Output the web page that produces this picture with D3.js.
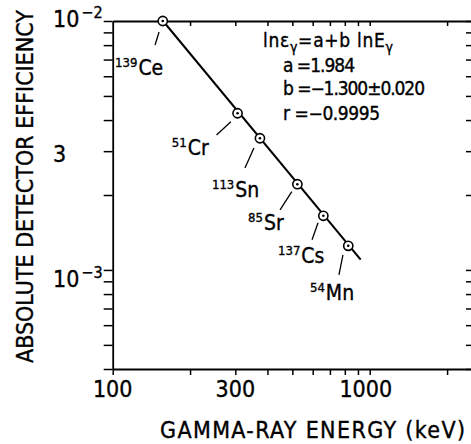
<!DOCTYPE html>
<html>
<head>
<meta charset="utf-8">
<script src="https://cdn.jsdelivr.net/npm/d3@7"></script>
<style>
  html, body { margin: 0; padding: 0; background: #fff; }
  svg { display: block; }
  text { font-family: "Liberation Sans Narrow", "DejaVu Sans Condensed", "Liberation Sans", sans-serif; fill: #000; stroke: #000; stroke-width: 0.35; }
</style>
</head>
<body>
<svg id="chart" width="471" height="444"></svg>
<script>
// ---------- data ----------
const massNumbers = ["139", "51", "113", "85", "137", "54"];
const elements    = ["Ce", "Cr", "Sn", "Sr", "Cs", "Mn"];
const energies    = [156.6, 306, 374, 523, 660, 825];          // keV
const efficiencies = [1.0e-2, 4.26e-3, 3.38e-3, 2.21e-3, 1.65e-3, 1.25e-3];

const fitEnergies = [157, 922];
const fitEfficiencies = [1.0e-2, 1.10e-3];

const xTickValues = [100, 200, 300, 400, 500, 600, 700, 800, 900, 1000, 2000];
const xTickLabels = ["100", "300", "1000"];
const xTickLabelValues = [100, 300, 1000];

const yTickValues = [4e-4, 5e-4, 6e-4, 7e-4, 8e-4, 9e-4,
                     1e-3, 2e-3, 3e-3, 4e-3, 5e-3, 6e-3, 7e-3, 8e-3, 9e-3, 1e-2];
const yTickLabelValues = [1e-2, 3e-3, 1e-3];
const yTickLabelBase = ["10", "3", "10"];
const yTickLabelSup  = ["\u22122", "", "\u22123"];

const fitLines = ["ln\u03b5|\u03b3|=a+b  lnE|\u03b3", "a =1.984", "b =\u22121.300\u00b10.020", "r =\u22120.9995"];

const xTitle = "GAMMA-RAY ENERGY (keV)";
const yTitle = "ABSOLUTE DETECTOR EFFICIENCY";

// ---------- layout (positions / styles) ----------
const L = { left: 112.7, right: 472, top: 21, bottom: 369 };
const labelLayout = [
  { l: [-3.7, 11, -7.7, 24],   t: [-47.7, 54] },
  { l: [-6.7, 8.4, -21, 21.7], t: [-65.7, 41.7] },
  { l: [-6, 9.7, -15, 29.7],   t: [-48, 58.7] },
  { l: [-5.6, 7.4, -17.3, 25.7], t: [-49.3, 45.7] },
  { l: [-5.3, 7, -11.3, 24],   t: [-45.3, 47] },
  { l: [-5.3, 9, -9.3, 29],    t: [-38.3, 54] }
];
const yLabelNudge = [6, 11, 17];
const xLabelNudge = [0, 0, -4];

const svg = d3.select("#chart");
svg.append("rect").attr("width", 471).attr("height", 444).attr("fill", "#fff");

const x = d3.scaleLog().domain([100, 2500]).range([L.left, L.right]);
const y = d3.scaleLog().domain([4e-4, 1e-2]).range([L.bottom, L.top]);

function styleAxis(g) {
  g.selectAll("path.domain").attr("stroke", "#000").attr("stroke-width", 1.8);
  g.selectAll(".tick line").attr("stroke", "#000").attr("stroke-width", 1.5);
  g.selectAll(".tick text").remove();
}

svg.append("g").attr("transform", `translate(0,${L.bottom})`)
  .call(d3.axisBottom(x).tickValues(xTickValues).tickSize(6).tickSizeOuter(0).tickFormat(""))
  .call(styleAxis);
svg.append("g").attr("transform", `translate(0,${L.top})`)
  .call(d3.axisTop(x).tickValues(xTickValues.filter(v => v > 100)).tickSize(-5).tickSizeOuter(0).tickFormat(""))
  .call(styleAxis);
svg.append("g").attr("transform", `translate(${L.left},0)`)
  .call(d3.axisLeft(y).tickValues(yTickValues).tickSize(9).tickSizeOuter(0).tickFormat(""))
  .call(styleAxis);
svg.append("g").attr("transform", `translate(${L.right},0)`)
  .call(d3.axisRight(y).tickValues(yTickValues).tickSize(-6).tickSizeOuter(0).tickFormat(""))
  .call(styleAxis);

// x tick labels
xTickLabelValues.forEach((v, i) => {
  svg.append("text")
    .attr("x", x(v) + xLabelNudge[i]).attr("y", 397)
    .attr("text-anchor", "middle")
    .attr("font-size", 23)
    .text(xTickLabels[i]);
});

// y tick labels
yTickLabelValues.forEach((v, i) => {
  const t = svg.append("text")
    .attr("x", 53).attr("y", y(v) + yLabelNudge[i])
    .attr("font-size", 23);
  t.append("tspan").text(yTickLabelBase[i]);
  if (yTickLabelSup[i]) {
    t.append("tspan").attr("dx", 2).attr("dy", -9).attr("font-size", 16).text(yTickLabelSup[i]);
  }
});

// axis titles
svg.append("text")
  .attr("x", 160).attr("y", 438)
  .attr("font-size", 23)
  .attr("textLength", 305).attr("lengthAdjust", "spacing")
  .text(xTitle);
svg.append("text")
  .attr("transform", "translate(33,363) rotate(-90)")
  .attr("x", 0).attr("y", 0)
  .attr("font-size", 23)
  .attr("textLength", 353).attr("lengthAdjust", "spacing")
  .text(yTitle);

// fit line
const line = d3.line().x(d => x(d[0])).y(d => y(d[1]));
svg.append("path")
  .datum(fitEnergies.map((e, i) => [e, fitEfficiencies[i]]))
  .attr("d", line)
  .attr("fill", "none").attr("stroke", "#000").attr("stroke-width", 2);

// markers, leaders, labels
energies.forEach((e, i) => {
  const px = x(e), py = y(efficiencies[i]);
  const lay = labelLayout[i];
  svg.append("line")
    .attr("x1", px + lay.l[0]).attr("y1", py + lay.l[1])
    .attr("x2", px + lay.l[2]).attr("y2", py + lay.l[3])
    .attr("stroke", "#000").attr("stroke-width", 1.3);
  const t = svg.append("text").attr("x", px + lay.t[0]).attr("y", py + lay.t[1]);
  t.append("tspan").attr("font-size", 13).attr("dy", -8).text(massNumbers[i]);
  t.append("tspan").attr("font-size", 21).attr("dy", 8).attr("dx", 1).text(elements[i]);
  svg.append("circle").attr("cx", px).attr("cy", py).attr("r", 4.6)
    .attr("fill", "#fff").attr("stroke", "#000").attr("stroke-width", 1.6);
  svg.append("circle").attr("cx", px).attr("cy", py).attr("r", 1.3).attr("fill", "#000");
});

// fit annotation
const annX = [263, 283, 283, 283];
const annY = [47, 72, 95, 120];
const annW = [130, 72, 142, 97];
fitLines.forEach((s, i) => {
  const t = svg.append("text").attr("x", annX[i]).attr("y", annY[i]).attr("font-size", 19)
    .attr("textLength", annW[i]).attr("lengthAdjust", "spacing");
  const parts = s.split("|");
  if (parts.length === 1) { t.text(s); return; }
  t.append("tspan").text(parts[0]);
  t.append("tspan").attr("dy", 5).attr("font-size", 14).text(parts[1]);
  t.append("tspan").attr("dy", -5).text(parts[2]);
  t.append("tspan").attr("dy", 5).attr("font-size", 14).text(parts[3]);
});
</script>
</body>
</html>
